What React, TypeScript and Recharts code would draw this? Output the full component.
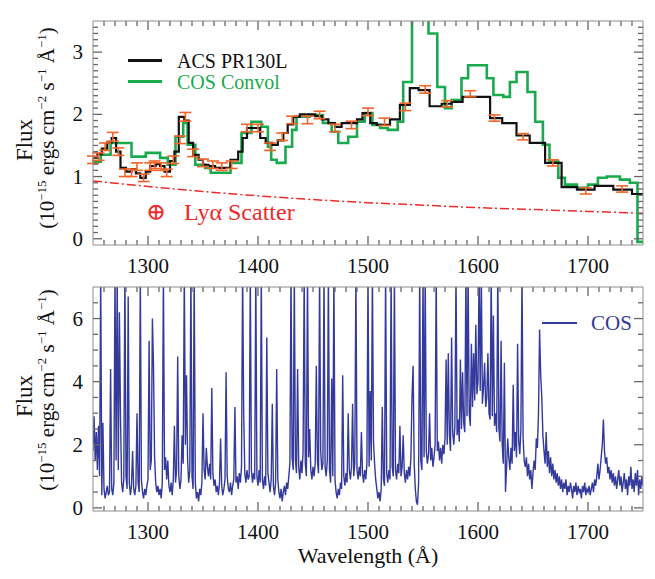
import React from 'react';
import {
  ComposedChart,
  Line,
  Scatter,
  ErrorBar,
  ReferenceLine,
  XAxis,
  YAxis,
} from 'recharts';

// ACS PR130L (black step), bin left edges + closing edge
const acsWl = [1250, 1254, 1258, 1263, 1267, 1271, 1275, 1280, 1285, 1289, 1293, 1298, 1302, 1307, 1311, 1315, 1320, 1324, 1328, 1333, 1337, 1341, 1346, 1350, 1355, 1361, 1368, 1375, 1382, 1386, 1390, 1396, 1402, 1407, 1413, 1418, 1423, 1427, 1432, 1438, 1446, 1452, 1458, 1464, 1470, 1476, 1484, 1490, 1495, 1502, 1508, 1514, 1520, 1529, 1538, 1546, 1556, 1567, 1576, 1586, 1599, 1611, 1622, 1635, 1647, 1661, 1676, 1690, 1706, 1723, 1740, 1750];
const acsFlux = [1.30, 1.36, 1.45, 1.55, 1.62, 1.40, 1.14, 1.08, 1.12, 1.05, 0.98, 1.08, 1.17, 1.20, 1.17, 1.08, 1.25, 1.40, 1.96, 1.90, 1.54, 1.35, 1.27, 1.19, 1.17, 1.14, 1.14, 1.27, 1.40, 1.62, 1.78, 1.78, 1.62, 1.54, 1.51, 1.58, 1.70, 1.84, 1.96, 2.00, 2.00, 1.97, 1.92, 1.86, 1.80, 1.86, 1.86, 1.92, 2.02, 1.86, 1.83, 1.83, 1.92, 2.15, 2.42, 2.39, 2.13, 2.17, 2.20, 2.28, 2.28, 1.94, 1.86, 1.66, 1.54, 1.22, 0.83, 0.79, 0.85, 0.79, 0.72, 0.72];

// COS convolved to prism resolution (green step)
const convWl = [1250, 1257, 1266, 1285, 1298, 1311, 1318, 1325, 1332, 1336, 1343, 1352, 1357, 1375, 1385, 1394, 1403, 1409, 1412, 1417, 1425, 1431, 1435, 1447, 1459, 1467, 1473, 1482, 1490, 1497, 1504, 1511, 1518, 1527, 1532, 1540, 1555, 1563, 1570, 1576, 1585, 1591, 1608, 1614, 1623, 1629, 1635, 1645, 1652, 1659, 1665, 1673, 1679, 1690, 1700, 1709, 1717, 1729, 1738, 1745, 1750];
const convFlux = [1.24, 1.35, 1.54, 1.32, 1.38, 1.30, 1.19, 1.64, 1.86, 1.51, 1.19, 1.14, 1.06, 1.22, 1.70, 1.88, 1.80, 1.48, 1.27, 1.22, 1.48, 1.75, 1.96, 1.99, 1.86, 1.72, 1.54, 1.64, 1.88, 2.02, 1.83, 1.78, 1.75, 1.88, 2.52, 4.0, 3.3, 2.44, 2.10, 2.23, 2.58, 2.79, 2.58, 2.31, 2.28, 2.52, 2.68, 2.36, 1.88, 1.51, 1.24, 0.98, 0.87, 0.82, 0.87, 0.98, 1.00, 0.95, 0.90, -0.05, -0.05];

// ACS error bars
const errWl = [1250, 1255, 1261, 1268, 1273, 1279, 1285, 1290, 1296, 1302, 1306, 1312, 1317, 1323, 1329, 1334, 1341, 1350, 1359, 1367, 1376, 1390, 1400, 1411, 1422, 1431, 1445, 1456, 1470, 1485, 1500, 1515, 1534, 1552, 1572, 1593, 1615, 1641, 1668, 1698, 1731];
const errFlux = [1.27, 1.32, 1.48, 1.64, 1.40, 1.06, 1.06, 1.16, 0.98, 1.16, 1.19, 1.16, 1.06, 1.27, 1.59, 1.96, 1.38, 1.22, 1.19, 1.16, 1.19, 1.78, 1.78, 1.48, 1.64, 1.91, 1.91, 1.99, 1.78, 1.83, 2.04, 1.88, 2.12, 2.40, 2.17, 2.33, 1.94, 1.64, 1.22, 0.77, 0.80];
const errSize = [0.06, 0.06, 0.06, 0.07, 0.06, 0.06, 0.06, 0.06, 0.06, 0.06, 0.06, 0.06, 0.06, 0.06, 0.06, 0.07, 0.06, 0.06, 0.06, 0.06, 0.06, 0.06, 0.06, 0.06, 0.06, 0.06, 0.06, 0.06, 0.06, 0.06, 0.06, 0.06, 0.06, 0.06, 0.05, 0.05, 0.05, 0.05, 0.05, 0.05, 0.05];

// Lyα geocoronal scatter estimate (red dash-dot)
const lyaWl = [1250, 1300, 1350, 1400, 1450, 1500, 1550, 1600, 1650, 1700, 1750];
const lyaFlux = [0.93, 0.84, 0.76, 0.69, 0.63, 0.58, 0.54, 0.50, 0.47, 0.44, 0.41];

// COS spectrum, 1 Å samples starting at 1250 Å
const cosStart = 1250;
const cosFlux = [
  1.8, 2.9, 1.5, 2.4, 1.2, 2.6, 1.0, 7.5, 0.4, 2.7,
  0.6, 0.3, 0.5, 0.7, 0.4, 0.5, 4.4, 0.6, 0.4, 0.8,
  7.5, 1.5, 7.5, 1.2, 6.2, 2.9, 0.8, 0.5, 0.9, 7.5,
  1.0, 0.6, 6.7, 0.8, 0.4, 0.7, 1.8, 0.6, 0.4, 0.7,
  3.0, 0.8, 0.5, 7.5, 0.9, 0.5, 0.3, 0.6, 0.4, 0.7,
  0.9, 5.3, 1.2, 1.5, 6.0, 4.5, 1.6, 0.8, 0.5, 0.7,
  0.4, 0.6, 0.3, 0.8, 7.5, 1.2, 1.6, 0.9, 1.5, 0.7,
  0.5, 0.8, 0.4, 0.9, 2.6, 0.8, 1.2, 4.8, 1.0, 0.6,
  0.9, 2.3, 1.4, 7.5, 2.0, 4.2, 1.5, 0.8, 1.2, 7.5,
  1.0, 0.6, 7.5, 0.8, 0.3, 0.5, 0.2, 0.6, 0.4, 0.8,
  3.0, 1.2, 0.9, 1.9, 1.3, 1.0, 1.4, 0.9, 3.8, 1.1,
  0.7, 0.9, 0.5, 0.7, 0.4, 0.8, 2.2, 0.7, 0.4, 0.6,
  0.9, 4.3, 1.0, 0.6, 0.5, 0.8, 0.4, 0.7, 0.9, 3.2,
  0.8, 1.0, 0.6, 1.1, 0.8, 1.3, 7.5, 3.0, 1.1, 0.8,
  1.2, 0.9, 1.0, 7.5, 1.2, 0.8, 1.1, 0.9, 7.5, 1.0,
  0.7, 1.2, 0.8, 7.5, 0.9, 0.6, 1.0, 0.7, 5.4, 1.1,
  0.8, 0.5, 0.9, 3.3, 0.7, 0.4, 0.8, 4.4, 0.9, 0.5,
  0.3, 0.6, 0.2, 0.5, 0.7, 0.4, 0.8, 0.6, 1.0, 1.4,
  7.5, 1.6, 1.2, 7.5, 1.5, 1.1, 4.4, 1.3, 0.9, 1.5,
  1.1, 1.8, 7.5, 1.4, 1.0, 7.5, 1.6, 2.5, 1.2, 0.9,
  1.3, 1.0, 1.4, 4.5, 1.5, 1.1, 7.5, 1.8, 1.2, 1.4,
  7.5, 1.3, 1.0, 1.5, 7.5, 1.2, 0.8, 4.1, 1.0, 7.5,
  0.9, 0.5, 0.3, 0.6, 0.4, 0.8, 0.6, 4.2, 1.0, 0.7,
  1.1, 0.8, 3.0, 1.2, 0.9, 1.3, 3.3, 1.0, 1.4, 7.5,
  1.2, 0.9, 1.3, 1.0, 2.4, 1.1, 0.8, 1.2, 0.9, 1.4,
  7.5, 1.3, 3.7, 1.5, 7.5, 2.1, 1.4, 0.9, 0.6, 0.3,
  0.5, 0.2, 0.6, 3.2, 0.9, 0.7, 7.5, 1.1, 0.8, 1.2,
  0.9, 7.5, 1.3, 1.0, 7.5, 1.2, 0.9, 1.4, 1.1, 2.6,
  1.0, 1.3, 2.3, 1.1, 0.8, 1.2, 0.9, 1.3, 1.0, 1.6,
  3.5, 4.5, 1.4, 0.6, 0.2, 0.1, 0.8, 7.5, 1.5, 1.2,
  7.5, 1.6, 7.5, 1.8, 1.4, 1.7, 3.0, 1.5, 1.9, 1.3,
  1.6, 2.0, 7.5, 1.8, 2.1, 1.5, 1.9, 1.4, 2.0, 1.7,
  2.2, 4.7, 2.0, 4.9, 2.3, 1.8, 5.4, 2.4, 2.0, 2.6,
  7.5, 2.3, 2.8, 2.1, 4.7, 2.5, 4.3, 2.7, 2.4, 7.5,
  2.9, 7.5, 3.0, 2.6, 5.2, 3.2, 4.9, 3.4, 5.8, 3.6,
  4.0, 7.5, 3.7, 7.5, 3.3, 3.8, 4.6, 3.2, 3.5, 4.9,
  3.0, 2.8, 7.5, 2.9, 6.1, 2.6, 3.0, 2.4, 7.5, 2.5,
  2.1, 5.3, 2.0, 1.4, 4.6, 0.5, 1.3, 2.2, 1.6, 1.2,
  1.9, 1.4, 3.9, 1.8, 2.4, 1.6, 5.2, 2.1, 1.7, 2.5,
  7.5, 2.2, 1.5, 1.3, 1.6, 1.0, 1.4, 0.9, 1.2, 0.6,
  1.1, 1.5, 1.2, 2.2, 1.9, 3.0, 5.65, 4.2, 3.5, 2.3,
  1.8, 1.4, 2.4, 1.3, 1.8, 1.1, 1.6, 1.0, 1.4, 0.9,
  1.2, 0.8, 1.1, 0.7, 1.0, 0.6, 0.9, 0.5, 0.8, 0.6,
  0.9, 0.4, 0.7, 0.5, 0.8, 0.6, 0.3, 0.7, 0.5, 0.8,
  0.4, 0.7, 0.5, 0.6, 0.3, 0.7, 0.5, 0.8, 0.4, 0.6,
  0.5, 0.7, 0.4, 0.6, 0.8, 0.5, 0.9, 0.7, 1.0, 1.4,
  0.9, 1.2, 1.6, 2.0, 2.8, 1.8, 1.4, 1.6, 1.1, 1.3,
  0.9, 1.2, 0.8, 1.1, 0.7, 1.0, 0.6, 0.9, 1.2, 0.7,
  1.0, 0.5, 0.8, 1.1, 0.6, 0.9, 0.4, 1.0, 0.7, 1.3,
  0.6, 0.9, 0.5, 1.1, 0.7, 1.2, 0.4, 0.9, 0.6, 1.0,
  0.7,
];

// axis ticks
const xMajor = [1300, 1400, 1500, 1600, 1700];
const topYMajor = [0, 1, 2, 3];
const botYMajor = [0, 2, 4, 6];

const isMajor = (v: number, majors: number[]) =>
  majors.some((m) => Math.abs(m - v) < 1e-6);

const xAll = Array.from({ length: 49 }, (_, i) => 1260 + i * 10);
const topYAll = Array.from({ length: 35 }, (_, i) => i / 10);
const botYAll = Array.from({ length: 14 }, (_, i) => i / 2);

const acsRows = acsWl.map((wl, i) => ({ wl, flux: acsFlux[i] }));
const convRows = convWl.map((wl, i) => ({ wl, flux: convFlux[i] }));
const errRows = errWl.map((wl, i) => ({ wl, flux: errFlux[i], err: errSize[i] }));
const lyaRows = lyaWl.map((wl, i) => ({ wl, flux: lyaFlux[i] }));
const cosRows = cosFlux.map((flux, i) => ({ wl: cosStart + i, flux }));

const SERIF = '"Liberation Serif", "Times New Roman", "DejaVu Serif", serif';
const FRAME = '#8c8c8c';
const TICK = '#666';
const BLUE = '#343a9c';
const GREEN = '#1aaa4e';
const RED = '#ee2a2a';
const ORANGE = '#f2652a';
const W = 655;
const X_DOMAIN = [1250, 1750];
const PLOT_W = 550; // px
const PLOT_H = 224; // px

const noTick = () => <g />;

const xLabel = (offset: number) => (p: any) => (
  <text x={p.x} y={Number(p.y) + offset} textAnchor='middle' fontFamily={SERIF} fontSize={21} fill='#111'>
    {p.payload.value}
  </text>
);

const yLabel = (p: any) => (
  <text x={Number(p.x) - 10} y={Number(p.y) + 7} textAnchor='end' fontFamily={SERIF} fontSize={21} fill='#111'>
    {p.payload.value}
  </text>
);

// inward tick marks on all four sides of the frame, as short reference segments
const frameTicks = (yDomain: number[], yAll: number[], yMajor: number[]) => {
  const [x0, x1] = X_DOMAIN;
  const [y0, y1] = yDomain;
  const yPerPx = (y1 - y0) / PLOT_H;
  const xPerPx = (x1 - x0) / PLOT_W;
  const out: React.ReactNode[] = [];
  const seg = (key: string, a: { x: number; y: number }, b: { x: number; y: number }) => (
    <ReferenceLine key={key} segment={[a, b]} stroke={TICK} strokeWidth={1.3} ifOverflow='visible' />
  );
  xAll.forEach((v) => {
    const len = (isMajor(v, xMajor) ? 9 : 5) * yPerPx;
    out.push(seg('b' + v, { x: v, y: y0 }, { x: v, y: y0 + len }));
    out.push(seg('t' + v, { x: v, y: y1 }, { x: v, y: y1 - len }));
  });
  yAll.forEach((v) => {
    const len = (isMajor(v, yMajor) ? 9 : 5) * xPerPx;
    out.push(seg('l' + v, { x: x0, y: v }, { x: x0 + len, y: v }));
    out.push(seg('r' + v, { x: x1, y: v }, { x: x1 - len, y: v }));
  });
  return out;
};

const frameAxes = (yDomain: number[], yMajor: number[], labelOffset: number) => [
  <XAxis
    key='xb'
    dataKey='wl'
    type='number'
    domain={X_DOMAIN}
    allowDataOverflow
    ticks={xMajor}
    interval={0}
    height={30}
    tickSize={0}
    tickMargin={0}
    tickLine={false}
    axisLine={{ stroke: FRAME }}
    tick={xLabel(labelOffset)}
  />,
  <XAxis
    key='xt'
    xAxisId='top'
    orientation='top'
    type='number'
    domain={X_DOMAIN}
    allowDataOverflow
    height={1}
    tickLine={false}
    axisLine={{ stroke: FRAME }}
    tick={noTick}
  />,
  <YAxis
    key='yl'
    dataKey='flux'
    type='number'
    domain={yDomain}
    allowDataOverflow
    ticks={yMajor}
    interval={0}
    width={40}
    tickSize={0}
    tickMargin={0}
    tickLine={false}
    axisLine={{ stroke: FRAME }}
    tick={yLabel}
  />,
  <YAxis
    key='yr'
    yAxisId='r'
    orientation='right'
    type='number'
    domain={yDomain}
    allowDataOverflow
    width={1}
    tickLine={false}
    axisLine={{ stroke: FRAME }}
    tick={noTick}
  />,
];

const TOP_Y = [-0.1, 3.5];
const BOT_Y = [-0.1, 7];

const TopPanel = () => (
  <ComposedChart width={W} height={285} margin={{ top: 20, right: 11, bottom: 10, left: 53 }}>
    {frameAxes(TOP_Y, topYMajor, 28)}
    <Line
      data={lyaRows}
      dataKey='flux'
      type='monotone'
      stroke={RED}
      strokeWidth={1.5}
      strokeDasharray='9 3 2 3'
      dot={false}
      isAnimationActive={false}
    />
    <Line
      data={convRows}
      dataKey='flux'
      type='stepAfter'
      stroke={GREEN}
      strokeWidth={2.6}
      dot={false}
      isAnimationActive={false}
    />
    <Line
      data={acsRows}
      dataKey='flux'
      type='stepAfter'
      stroke='#111'
      strokeWidth={2.2}
      dot={false}
      isAnimationActive={false}
    />
    <Scatter data={errRows} dataKey='flux' shape={() => <g />} isAnimationActive={false}>
      <ErrorBar dataKey='err' direction='y' width={6} stroke={ORANGE} strokeWidth={1.6} />
    </Scatter>
    {frameTicks(TOP_Y, topYAll, topYMajor)}
  </ComposedChart>
);

const BottomPanel = () => (
  <ComposedChart width={W} height={290} margin={{ top: 16, right: 11, bottom: 19, left: 53 }}>
    {frameAxes(BOT_Y, botYMajor, 28)}
    <Line
      data={cosRows}
      dataKey='flux'
      type='linear'
      stroke={BLUE}
      strokeWidth={1.4}
      dot={false}
      isAnimationActive={false}
    />
    {frameTicks(BOT_Y, botYAll, botYMajor)}
  </ComposedChart>
);

const Sup = ({ children }: { children: React.ReactNode }) => (
  <span style={{ fontSize: '0.62em', position: 'relative', top: '-0.6em' }}>{children}</span>
);

const VLabel = ({ cx, cy, size, children }: { cx: number; cy: number; size: number; children: React.ReactNode }) => (
  <div
    style={{
      position: 'absolute',
      left: cx,
      top: cy,
      transform: 'translate(-50%, -50%) rotate(-90deg)',
      whiteSpace: 'nowrap',
      fontSize: size,
      lineHeight: 1,
      color: '#111',
    }}
  >
    {children}
  </div>
);

const UnitsLabel = () => (
  <>
    (10<Sup>−15</Sup> ergs cm<Sup>−2</Sup> s<Sup>−1</Sup> Å<Sup>−1</Sup>)
  </>
);

const legendText = (color: string, size = 20): React.CSSProperties => ({
  position: 'absolute',
  fontSize: size,
  lineHeight: 1,
  color,
  whiteSpace: 'nowrap',
});

export default function App() {
  return (
    <div
      style={{
        position: 'absolute',
        left: 0,
        top: 0,
        width: W,
        height: 579,
        background: '#fff',
        fontFamily: SERIF,
        overflow: 'hidden',
      }}
    >
      <div style={{ position: 'absolute', left: 0, top: 0 }}>
        <TopPanel />
      </div>
      <div style={{ position: 'absolute', left: 0, top: 270 }}>
        <BottomPanel />
      </div>

      {/* top legend */}
      <div style={{ position: 'absolute', left: 128, top: 59, width: 34, height: 2.5, background: '#111' }} />
      <div style={{ ...legendText('#111'), left: 177, top: 51 }}>ACS PR130L</div>
      <div style={{ position: 'absolute', left: 128, top: 80, width: 34, height: 2.5, background: GREEN }} />
      <div style={{ ...legendText(GREEN), left: 177, top: 72 }}>COS Convol</div>
      <div style={{ ...legendText(RED, 24), left: 146, top: 200 }}>
        ⊕<span style={{ marginLeft: 18 }}>Lyα Scatter</span>
      </div>

      {/* bottom legend */}
      <div style={{ position: 'absolute', left: 542, top: 322, width: 35, height: 2, background: BLUE }} />
      <div style={{ ...legendText(BLUE, 21), left: 591, top: 313 }}>COS</div>

      {/* axis titles */}
      <VLabel cx={24} cy={140} size={23}>Flux</VLabel>
      <VLabel cx={47} cy={128} size={21}>
        <UnitsLabel />
      </VLabel>
      <VLabel cx={24} cy={396} size={23}>Flux</VLabel>
      <VLabel cx={47} cy={390} size={21}>
        <UnitsLabel />
      </VLabel>
      <div style={{ position: 'absolute', left: 368, top: 556, transform: 'translate(-50%, -50%)', fontSize: 22, lineHeight: 1, whiteSpace: 'nowrap', color: '#111' }}>
        Wavelength (Å)
      </div>
    </div>
  );
}
